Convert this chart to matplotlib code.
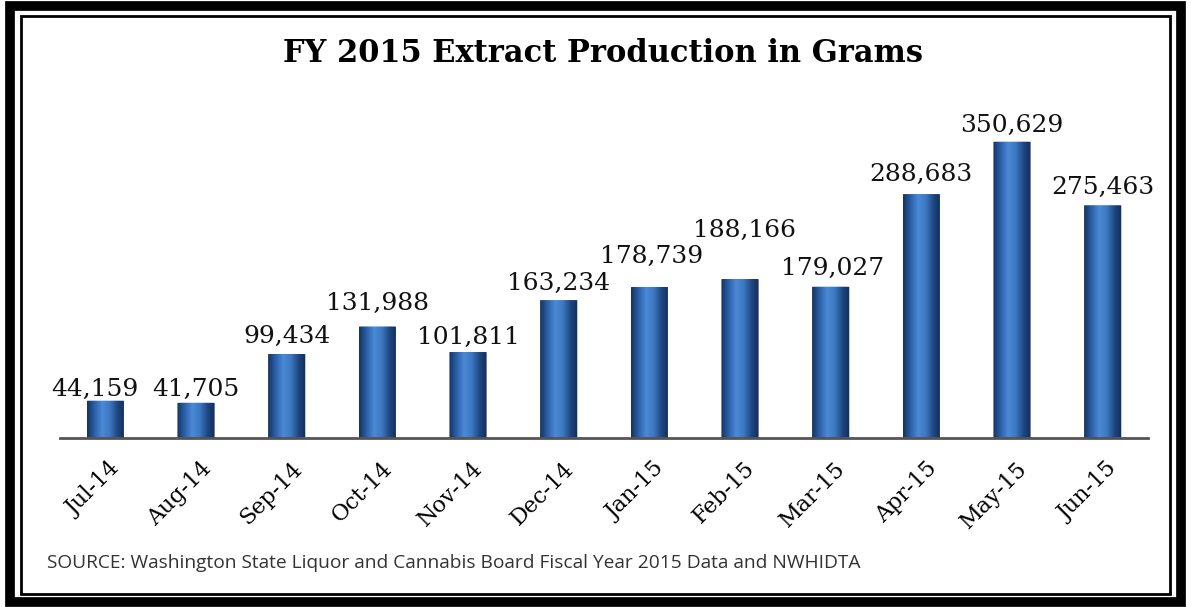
import matplotlib
matplotlib.use('Agg')
import matplotlib.pyplot as plt
import matplotlib.transforms as mtransforms
from matplotlib.colors import LinearSegmentedColormap
from matplotlib.patches import Rectangle, FancyBboxPatch
import numpy as np

# Data
months = ['Jul-14', 'Aug-14', 'Sep-14', 'Oct-14', 'Nov-14', 'Dec-14',
          'Jan-15', 'Feb-15', 'Mar-15', 'Apr-15', 'May-15', 'Jun-15']
grams = [44159, 41705, 99434, 131988, 101811, 163234,
         178739, 188166, 179027, 288683, 350629, 275463]

title = 'FY 2015 Extract Production in Grams'
source = ('SOURCE: Washington State Liquor and Cannabis Board Fiscal Year '
          '2015 Data and NWHIDTA')

# hand placed label nudges (pixels) as in the original
label_dy = [5, 7, 11, 16, 8, 10, 24, 42, 12, 13, 10, 11]
label_dx = [-10, 0, 0, 0, 0, 0, 2, 4, 2, 0, 0, 0]

serif = ['DejaVu Serif']


def main():
    fig = plt.figure(figsize=(11.91, 6.07), dpi=100)
    fig.patch.set_facecolor('white')

    # Double frame round the picture
    fig.patches.append(Rectangle((0.0085, 0.008), 0.983, 0.982, transform=fig.transFigure,
                                 fill=False, lw=7, ec='black', zorder=10))
    fig.patches.append(Rectangle((0.0175, 0.022), 0.965, 0.952, transform=fig.transFigure,
                                 fill=False, lw=2, ec='black', zorder=10))

    ax = fig.add_axes([0.0504, 0.2784, 0.9135, 0.5569])
    x = np.arange(len(months))
    ax.set_xlim(-0.5, len(months) - 0.5)
    ax.set_ylim(0, 400000)
    bars = ax.bar(x, grams, width=0.41, color='#2a5ea8', lw=0, zorder=2)

    # Cylinder shading: horizontal gradient clipped to a round-topped bar
    cmap = LinearSegmentedColormap.from_list(
        'cyl', ['#15335f', '#2b60a8', '#4a8ad6', '#3d78c2', '#1f4883', '#122d55'])
    grad = np.linspace(0, 1, 256).reshape(1, -1)
    rx = 0.06
    aspect = 1183.0 * 37 / 0.41 / 37  # data units per px, y over x
    for b in bars:
        bx, by = b.get_x(), b.get_y()
        bw, bh = b.get_width(), b.get_height()
        b.set_visible(False)
        shape = FancyBboxPatch((bx, by - 20000), bw, bh + 20000,
                               boxstyle=f'round,pad=0,rounding_size={rx}',
                               mutation_aspect=aspect, transform=ax.transData)
        im = ax.imshow(grad, cmap=cmap, aspect='auto', zorder=3,
                       extent=(bx, bx + bw, by, by + bh), interpolation='bicubic')
        im.set_clip_path(shape)

    for xi, v, dx, dy in zip(x, grams, label_dx, label_dy):
        ax.annotate(f'{v:,}', (xi, v), xytext=(dx * 0.72, dy * 0.72),
                    textcoords='offset points', ha='center', va='baseline',
                    fontsize=18, family=serif, color='#111111')

    for s in ['top', 'right', 'left']:
        ax.spines[s].set_visible(False)
    ax.spines['bottom'].set_color('#555555')
    ax.spines['bottom'].set_linewidth(2)
    ax.spines['bottom'].set_zorder(4)
    ax.set_yticks([])
    ax.tick_params(axis='x', length=0, pad=14)
    ax.set_xticks(x)
    ax.set_xticklabels(months, rotation=45, ha='right', rotation_mode='anchor',
                       fontsize=16, family=serif)
    offset = mtransforms.ScaledTranslation(0.04, 0, fig.dpi_scale_trans)
    for lab in ax.get_xticklabels():
        lab.set_transform(lab.get_transform() + offset)

    fig.text(0.506, 0.912, title, ha='center', va='center', fontsize=22,
             fontweight='bold', family=serif)
    fig.text(0.0395, 0.072, source, ha='left', va='center', fontsize=13.8,
             family=['Open Sans'], color='#333333')

    fig.savefig('out.png', dpi=100, facecolor='white')


if __name__ == '__main__':
    main()
